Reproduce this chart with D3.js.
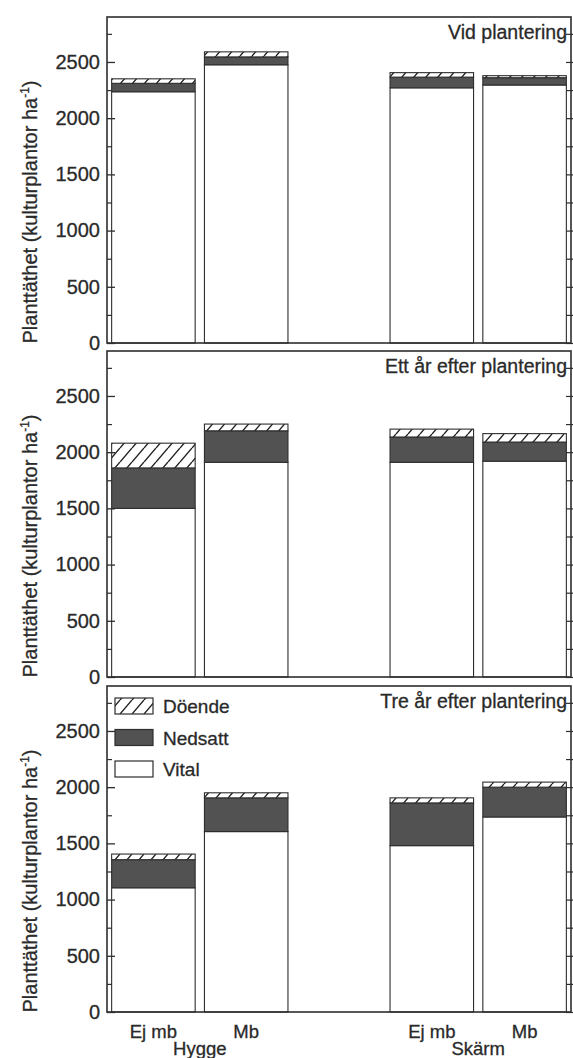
<!DOCTYPE html>
<html><head><meta charset="utf-8">
<script src="https://cdn.jsdelivr.net/npm/d3@7"></script>
<style>
html,body{margin:0;padding:0;background:#fff;}
svg text{font-family:"Liberation Sans",Arial,Helvetica,sans-serif;fill:#2a2a2a;stroke:#2a2a2a;stroke-width:0.3px;}
</style></head>
<body><svg id="c" width="573" height="1058"></svg>
<script>
// ---- data ----
const panelTitles = ["Vid plantering", "Ett år efter plantering", "Tre år efter plantering"];
const groups = ["Hygge", "Skärm"];
const categories = ["Ej mb", "Mb"];
const vital   = [[2235, 2475, 2270, 2295], [1500, 1910, 1910, 1920], [1105, 1605, 1480, 1735]];
const nedsatt = [[75, 70, 95, 65],        [360, 280, 225, 170],    [250, 300, 380, 265]];
const doende  = [[40, 45, 40, 18],        [220, 60, 70, 75],       [50, 45, 45, 45]];
const seriesNames = ["Vital", "Nedsatt", "Döende"];
const majorTicks = [0, 500, 1000, 1500, 2000, 2500];
const minorTicks = [250, 750, 1250, 1750, 2250, 2750];
const yLabel = "Planttäthet (kulturplantor ha";

// ---- layout ----
const svg = d3.select("#c");
const left = 107, right = 571;
const panelTop = [17, 351, 686];
const panelH = 326;
const ink = "#2e2e2e";
const darkFill = "#525252";

const defs = svg.append("defs");
const pat = defs.append("pattern").attr("id", "hatch").attr("patternUnits", "userSpaceOnUse")
  .attr("width", 12).attr("height", 14);
pat.append("rect").attr("width", 12).attr("height", 14).attr("fill", "#fff");
pat.append("path").attr("d", "M0,14 L12,0 M-6,7 L0,0 M12,14 L18,7")
  .attr("stroke", "#222").attr("stroke-width", 1.4);

// slot keys (spacer slot between groups)
const slots = [];
groups.forEach((g, gi) => { categories.forEach(c => slots.push(g + "|" + c)); if (gi === 0) slots.push("spacer"); });
const x = d3.scaleBand().domain(slots).range([left, right]).paddingInner(0.1).paddingOuter(0.05);
const barKeys = slots.filter(s => s !== "spacer");

panelTitles.forEach((title, pi) => {
  const top = panelTop[pi], bottom = top + panelH;
  const y = d3.scaleLinear().domain([0, 2900]).range([bottom, top]);
  const g = svg.append("g");

  const rows = barKeys.map((k, i) => ({key: k, v: vital[pi][i], n: nedsatt[pi][i], d: doende[pi][i]}));
  const stack = d3.stack().keys(["v", "n", "d"])(rows);
  const fills = ["#fff", darkFill, "url(#hatch)"];
  stack.forEach((layer, li) => {
    g.selectAll(null).data(layer).enter().append("rect")
      .attr("x", d => x(d.data.key)).attr("width", x.bandwidth())
      .attr("y", d => y(d[1])).attr("height", d => y(d[0]) - y(d[1]))
      .attr("fill", fills[li]).attr("stroke", ink).attr("stroke-width", 1.1);
  });

  // frame
  g.append("rect").attr("x", left).attr("y", top).attr("width", right - left).attr("height", panelH)
    .attr("fill", "none").attr("stroke", ink).attr("stroke-width", 1.6);

  // left axis (inward ticks)
  const axL = d3.axisLeft(y).tickValues(majorTicks).tickSize(-8).tickPadding(7).tickFormat(d3.format("d"));
  const gl = g.append("g").attr("transform", `translate(${left},0)`).call(axL);
  gl.select(".domain").remove();
  gl.selectAll("line").attr("stroke", ink).attr("stroke-width", 1.3);
  gl.selectAll("text").attr("font-size", 20).attr("fill", "#2a2a2a").attr("font-family", "Liberation Sans, Arial, sans-serif");
  const glm = g.append("g").attr("transform", `translate(${left},0)`)
    .call(d3.axisLeft(y).tickValues(minorTicks).tickSize(-5).tickFormat(""));
  glm.select(".domain").remove();
  glm.selectAll("line").attr("stroke", ink).attr("stroke-width", 1.2);

  // right axis ticks (crossing the frame)
  const gr = g.append("g").attr("transform", `translate(${right},0)`)
    .call(d3.axisRight(y).tickValues(majorTicks.concat(minorTicks)).tickSize(6).tickFormat(""));
  gr.select(".domain").remove();
  gr.selectAll("line").attr("stroke", ink).attr("stroke-width", 1.2).attr("x1", -5);

  // title
  g.append("text").attr("x", 567).attr("y", top + 22).attr("text-anchor", "end")
    .attr("font-size", 19.5).text(title);

  // y label
  const lab = g.append("text").attr("transform", `translate(37,${bottom - 131}) rotate(-90)`)
    .attr("text-anchor", "middle").attr("font-size", 20);
  lab.append("tspan").text(yLabel);
  lab.append("tspan").attr("font-size", 12).attr("dy", -8).text("-1");
  lab.append("tspan").attr("dy", 8).text(")");

  // legend in last panel
  if (pi === 2) {
    const lg = g.append("g");
    const items = seriesNames.slice().reverse();
    const lf = {"Döende": "url(#hatch)", "Nedsatt": darkFill, "Vital": "#fff"};
    items.forEach((name, i) => {
      const cy = top + 20 + i * 31.5;
      lg.append("rect").attr("x", 115).attr("y", cy - 8).attr("width", 38).attr("height", 16)
        .attr("fill", lf[name]).attr("stroke", ink).attr("stroke-width", 1.2);
      lg.append("text").attr("x", 163).attr("y", cy + 7).attr("font-size", 19).text(name);
    });

    // x labels
    barKeys.forEach(k => {
      g.append("text").attr("x", x(k) + x.bandwidth() / 2).attr("y", bottom + 26)
        .attr("text-anchor", "middle").attr("font-size", 18.5).text(k.split("|")[1]);
    });
    groups.forEach(gr2 => {
      const ks = barKeys.filter(k => k.startsWith(gr2 + "|"));
      const cx = (x(ks[0]) + x(ks[ks.length - 1]) + x.bandwidth()) / 2;
      g.append("text").attr("x", cx).attr("y", bottom + 43)
        .attr("text-anchor", "middle").attr("font-size", 18.5).text(gr2);
    });
  }
});
</script></body></html>
